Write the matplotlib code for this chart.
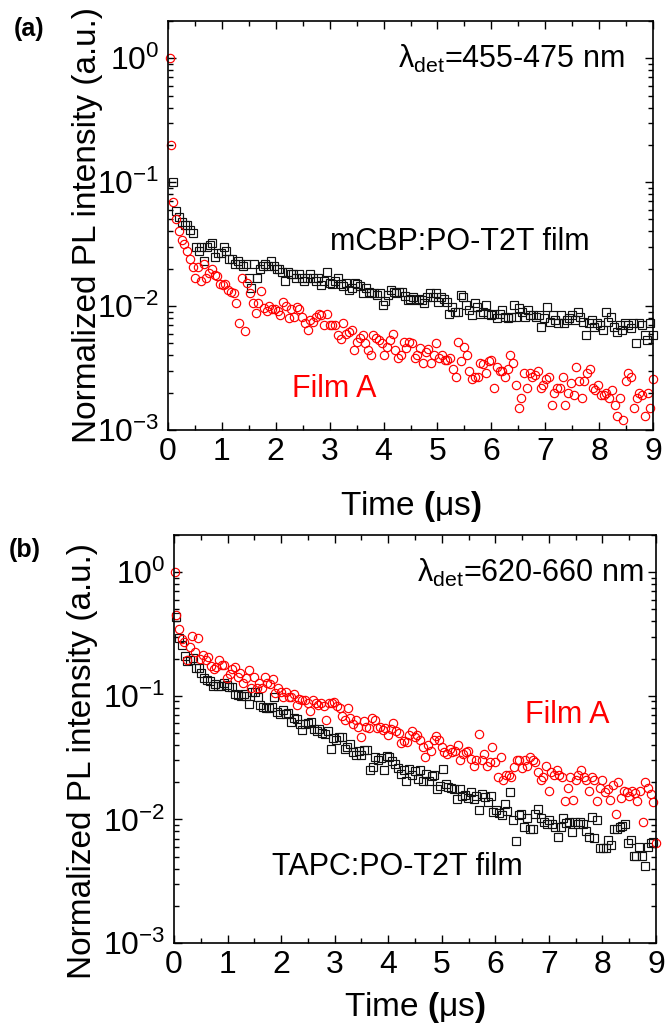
import matplotlib
matplotlib.use("Agg")
import matplotlib.pyplot as plt
import numpy as np
from matplotlib.ticker import MultipleLocator, LogLocator, NullFormatter

plt.rcParams["font.family"] = ["Liberation Sans", "DejaVu Sans"]
plt.rcParams["mathtext.fontset"] = "custom"
plt.rcParams["mathtext.rm"] = "Liberation Sans"
plt.rcParams["mathtext.it"] = "Liberation Sans:italic"
plt.rcParams["mathtext.bf"] = "Liberation Sans:bold"

# ---- panel (a): lambda_det = 455-475 nm ----
# mCBP:PO-T2T film (black squares), t = 0.10 ... 9.00 us
a_black = [
    0.10, 0.059, 0.052, 0.048, 0.045, 0.045, 0.041, 0.039, 0.030, 0.028,
    0.030, 0.023, 0.030, 0.031, 0.032, 0.025, 0.027, 0.027, 0.030, 0.028,
    0.024, 0.024, 0.022, 0.023, 0.022, 0.021, 0.022, 0.017, 0.014, 0.022,
    0.017, 0.020, 0.021, 0.022, 0.021, 0.023, 0.021, 0.020, 0.020, 0.019,
    0.016, 0.019, 0.018, 0.018, 0.017, 0.018, 0.017, 0.016, 0.017, 0.018,
    0.017, 0.016, 0.017, 0.0148, 0.016, 0.019, 0.0155, 0.015, 0.016, 0.017,
    0.015, 0.0145, 0.0155, 0.0135, 0.014, 0.0155, 0.015, 0.0145, 0.0127, 0.014,
    0.013, 0.0127, 0.0127, 0.0123, 0.0127, 0.0102, 0.011, 0.0123, 0.0135, 0.013,
    0.0127, 0.013, 0.013, 0.012, 0.0112,
    0.0115, 0.0119, 0.0112, 0.0115, 0.0112, 0.0105, 0.0119, 0.0127, 0.0119, 0.0127,
    0.0108, 0.0119, 0.0115, 0.0108, 0.0087, 0.0099, 0.0090, 0.0090, 0.0123, 0.0119,
    0.0102, 0.0093, 0.0085, 0.0105, 0.0099, 0.0087, 0.0090, 0.0102, 0.0087, 0.0085,
    0.0087, 0.0080, 0.0087, 0.0093, 0.0082, 0.0080, 0.0082, 0.0102, 0.0082, 0.0096,
    0.0090, 0.0082, 0.0093, 0.0085, 0.0085, 0.0082, 0.0085, 0.0068, 0.0080, 0.0099,
    0.0075, 0.0085, 0.0077, 0.0073, 0.0085, 0.0073, 0.0077, 0.0080, 0.0085, 0.0077,
    0.0090, 0.0082, 0.0075, 0.0058, 0.0073, 0.0077, 0.0068, 0.0073, 0.0070, 0.0064,
    0.0090, 0.0075, 0.0082, 0.0068, 0.0062, 0.0070, 0.0064, 0.0073, 0.0070, 0.0066,
    0.0073, 0.0050, 0.0073, 0.0070, 0.0058, 0.0053, 0.0073, 0.0058,
]
a_black_t = (0.10, 9.00)

# Film A (red circles): two early points, then t = 0.10 ... 9.00 us
a_red_head_t = [0.03, 0.06]
a_red_head = [1.0, 0.20]
a_red = [
    0.069, 0.050, 0.040, 0.034, 0.0315, 0.028, 0.024, 0.0205, 0.017, 0.0205,
    0.0158, 0.022, 0.017, 0.0184, 0.020, 0.0177, 0.0175, 0.0151, 0.0148, 0.0150,
    0.0135, 0.013, 0.0127, 0.0105, 0.0073, 0.017, 0.0063, 0.0155, 0.0128, 0.0106,
    0.0088, 0.0105, 0.0133, 0.0097, 0.0092, 0.0100, 0.0095, 0.0094, 0.0091, 0.0085,
    0.0108, 0.0100, 0.0080, 0.0094, 0.0081, 0.0098, 0.0094, 0.0082, 0.0073, 0.0064,
    0.0077, 0.0075, 0.0082, 0.0087, 0.0085, 0.0070, 0.0087, 0.0071, 0.0070, 0.0071,
    0.0058, 0.0054, 0.0073, 0.0060, 0.0062, 0.0064, 0.0044, 0.0051, 0.0055, 0.0058,
    0.0050, 0.0044, 0.0040, 0.0058, 0.0055, 0.0053, 0.0050, 0.0040, 0.0047, 0.0053,
    0.0059, 0.0044, 0.0038, 0.0040, 0.0051,
    0.0046, 0.0051, 0.0050, 0.0038, 0.0040, 0.0046, 0.0035, 0.0043, 0.0045, 0.0035,
    0.0040, 0.0050, 0.0038, 0.0040, 0.0037, 0.0037, 0.0038, 0.0031, 0.0027, 0.0051,
    0.0036, 0.0047, 0.0040, 0.0030, 0.0026, 0.0027, 0.0027, 0.0035, 0.0034, 0.0029,
    0.0036, 0.0037, 0.0022, 0.0032, 0.0030, 0.0030, 0.0027, 0.0031, 0.0040, 0.0035,
    0.0023, 0.0015, 0.0018, 0.0029, 0.0022, 0.0029, 0.0027, 0.0028, 0.0030, 0.0022,
    0.0023, 0.0026, 0.0027, 0.0016, 0.0020, 0.0022, 0.0022, 0.0027, 0.0016, 0.0020,
    0.0024, 0.0019, 0.0032, 0.0025, 0.0018, 0.0025, 0.0029, 0.0031, 0.0022, 0.0021,
    0.0023, 0.0019, 0.0019, 0.0020, 0.0018, 0.0021, 0.0016, 0.0013, 0.0018, 0.0012,
    0.0025, 0.0029, 0.0027, 0.0015, 0.0018, 0.0020, 0.0019, 0.0013, 0.0020, 0.0015,
    0.0026,
]
a_red_t = (0.10, 9.00)

# ---- panel (b): lambda_det = 620-660 nm ----
# TAPC:PO-T2T film (black squares), t = 0.04 ... 8.95 us
b_black = [
    0.43, 0.296, 0.256, 0.209, 0.191, 0.194, 0.204, 0.169, 0.169, 0.153,
    0.138, 0.135, 0.132, 0.119, 0.125, 0.119, 0.119, 0.127, 0.122, 0.118,
    0.118, 0.104, 0.101, 0.099, 0.104, 0.099, 0.0865, 0.107, 0.107, 0.098,
    0.0838, 0.0812, 0.0802, 0.0802, 0.0812, 0.098, 0.074, 0.0717, 0.0773, 0.0708,
    0.0726, 0.0614, 0.0665, 0.0654, 0.0588, 0.0526, 0.0588, 0.0602, 0.0614, 0.0542,
    0.0519, 0.0542, 0.050, 0.0488, 0.0519, 0.0373, 0.0459, 0.0436, 0.0464, 0.0464,
    0.0373, 0.0385, 0.041, 0.0351, 0.033, 0.0357, 0.033, 0.0362, 0.0367, 0.0252,
    0.0265, 0.032, 0.030, 0.0316, 0.0249, 0.0324, 0.032, 0.0297, 0.0279, 0.0262,
    0.0234, 0.0252, 0.0205, 0.0257, 0.0227, 0.0245, 0.0213, 0.0249, 0.0205,
    0.0234, 0.0204, 0.0223, 0.0227, 0.0177, 0.0185, 0.0257, 0.0192, 0.0183, 0.0180,
    0.0177, 0.0147, 0.0177, 0.0156, 0.0158, 0.0150, 0.0166, 0.0147, 0.0156, 0.0120,
    0.0161, 0.0152, 0.0138, 0.0156, 0.0115, 0.0120, 0.0113, 0.0108, 0.0134, 0.0118,
    0.0166, 0.0098, 0.0067, 0.0108, 0.0110, 0.0087, 0.0103, 0.0084, 0.0084, 0.0111,
    0.0122, 0.0103, 0.0095, 0.0092, 0.0099, 0.0091, 0.0087, 0.0072, 0.0087, 0.0103,
    0.0093, 0.0095, 0.0079, 0.0095, 0.0092, 0.0095, 0.0092, 0.0080, 0.0072, 0.0104,
    0.0071, 0.0098, 0.0059, 0.0059, 0.0059, 0.0068, 0.0062, 0.0084, 0.0084, 0.0087,
    0.0089, 0.0092, 0.0064, 0.0068, 0.0051, 0.0051, 0.0060, 0.0051, 0.0042, 0.0060,
    0.0064, 0.0066,
]
b_black_t = (0.04, 8.95)

# Film A (red circles): peak point, then t = 0.04 ... 9.00 us
b_red_head_t = [0.02]
b_red_head = [1.0]
b_red = [
    0.454, 0.35, 0.286, 0.273, 0.194, 0.248, 0.303, 0.226, 0.296, 0.200,
    0.212, 0.194, 0.206, 0.173, 0.166, 0.171, 0.196, 0.176, 0.178, 0.138,
    0.151, 0.166, 0.172, 0.142, 0.154, 0.127, 0.138, 0.163, 0.116, 0.141,
    0.116, 0.127, 0.116, 0.142, 0.128, 0.124, 0.137, 0.105, 0.116, 0.107,
    0.098, 0.107, 0.098, 0.098, 0.104, 0.085, 0.095, 0.092, 0.092, 0.088,
    0.075, 0.093, 0.087, 0.085, 0.087, 0.082, 0.064, 0.087, 0.087, 0.089,
    0.083, 0.080, 0.068, 0.064, 0.079, 0.0655, 0.0596, 0.064, 0.056, 0.0464,
    0.063, 0.056, 0.055, 0.0655, 0.064, 0.055, 0.0555, 0.0528, 0.055, 0.0483,
    0.054, 0.0605, 0.052, 0.0504, 0.0415, 0.043, 0.042, 0.0483, 0.052, 0.0464,
    0.048, 0.044, 0.0385, 0.032, 0.040, 0.036, 0.044, 0.047, 0.044, 0.0385,
    0.035, 0.034, 0.037, 0.035, 0.036, 0.040, 0.030, 0.034, 0.035, 0.036,
    0.031, 0.027, 0.030, 0.049, 0.030, 0.034, 0.027, 0.029, 0.0385, 0.029,
    0.022, 0.032, 0.021, 0.023, 0.023, 0.022, 0.0265, 0.030, 0.030, 0.026,
    0.030, 0.027, 0.032, 0.030, 0.029, 0.024, 0.021, 0.022, 0.027, 0.017,
    0.024, 0.023, 0.025, 0.023, 0.022, 0.014, 0.018, 0.022, 0.0144, 0.021,
    0.023, 0.025, 0.022, 0.021, 0.017, 0.022, 0.021, 0.014, 0.018, 0.021,
    0.0166, 0.0177, 0.0144, 0.019, 0.011, 0.020, 0.015, 0.017, 0.0166, 0.0156,
    0.017, 0.0163, 0.014, 0.017, 0.0095, 0.020, 0.018, 0.016, 0.0138, 0.0064,
]
b_red_t = (0.04, 9.00)

TICK_FS = 23
LABEL_FS = 24
NOTE_FS = 22
RED = "#ff0000"


def time_grid(span, values):
    """Evenly spaced acquisition times for a decay trace."""
    return np.linspace(span[0], span[1], len(values))


def draw_panel(ax, black, black_span, red, red_span, red_head_t, red_head):
    """Draw one decay panel: black open squares and red open circles on log y."""
    ax.plot(time_grid(black_span, black), black, "s", ms=5.2, mfc="none",
            mec="#111111", mew=0.85, clip_on=False)
    ax.plot(time_grid(red_span, red), red, "o", ms=6, mfc="none",
            mec=RED, mew=0.85, clip_on=False)
    ax.plot(red_head_t, red_head, "o", ms=6, mfc="none",
            mec=RED, mew=0.85, clip_on=False)

    ax.set_yscale("log")
    ax.set_xlim(0, 9)
    ax.set_ylim(1e-3, 2)
    ax.xaxis.set_major_locator(MultipleLocator(1))
    ax.xaxis.set_minor_locator(MultipleLocator(0.5))
    ax.yaxis.set_major_locator(LogLocator(base=10, numticks=10))
    ax.yaxis.set_minor_locator(LogLocator(base=10, subs=np.arange(2, 10), numticks=10))
    ax.yaxis.set_minor_formatter(NullFormatter())
    ax.tick_params(which="both", direction="in", top=True, right=True,
                   width=1.0, labelsize=TICK_FS)
    ax.tick_params(which="major", length=6)
    ax.tick_params(which="minor", length=3.5)
    ax.tick_params(axis="x", pad=5)
    ax.tick_params(axis="y", pad=6)
    for s in ax.spines.values():
        s.set_linewidth(1.2)

    ax.set_ylabel("Normalized PL intensity (a.u.)", fontsize=LABEL_FS)
    ax.set_xlabel(r"Time $\mathbf{(}\mathrm{\mu s}\mathbf{)}$", fontsize=LABEL_FS)


fig = plt.figure(figsize=(6.67, 10.27), dpi=100)
ax_a = fig.add_axes([0.2519, 0.5813, 0.7271, 0.3983])
ax_b = fig.add_axes([0.2609, 0.0818, 0.7226, 0.3973])

draw_panel(ax_a, a_black, a_black_t, a_red, a_red_t, a_red_head_t, a_red_head)
draw_panel(ax_b, b_black, b_black_t, b_red, b_red_t, b_red_head_t, b_red_head)

ax_a.yaxis.set_label_coords(-0.135, 0.5)
ax_a.xaxis.set_label_coords(0.5, -0.145)
ax_b.yaxis.set_label_coords(-0.158, 0.445)
ax_b.xaxis.set_label_coords(0.5, -0.115)

ax_a.text(0.942, 0.885, r"$\mathrm{\lambda_{det}}$=455-475 nm", transform=ax_a.transAxes,
          ha="right", va="baseline", fontsize=NOTE_FS)
ax_a.text(0.334, 0.44, "mCBP:PO-T2T film", transform=ax_a.transAxes,
          ha="left", va="baseline", fontsize=NOTE_FS)
ax_a.text(0.256, 0.081, "Film A", transform=ax_a.transAxes,
          ha="left", va="baseline", fontsize=NOTE_FS, color=RED)

ax_b.text(0.975, 0.886, r"$\mathrm{\lambda_{det}}$=620-660 nm", transform=ax_b.transAxes,
          ha="right", va="baseline", fontsize=NOTE_FS)
ax_b.text(0.728, 0.539, "Film A", transform=ax_b.transAxes,
          ha="left", va="baseline", fontsize=NOTE_FS, color=RED)
ax_b.text(0.203, 0.167, "TAPC:PO-T2T film", transform=ax_b.transAxes,
          ha="left", va="baseline", fontsize=NOTE_FS)

fig.text(29 / 667, 1 - 29 / 1027, "(a)", fontsize=18, fontweight="bold",
         ha="center", va="center")
fig.text(25 / 667, 1 - 550 / 1027, "(b)", fontsize=18, fontweight="bold",
         ha="center", va="center")

fig.savefig("out.png", dpi=100)
